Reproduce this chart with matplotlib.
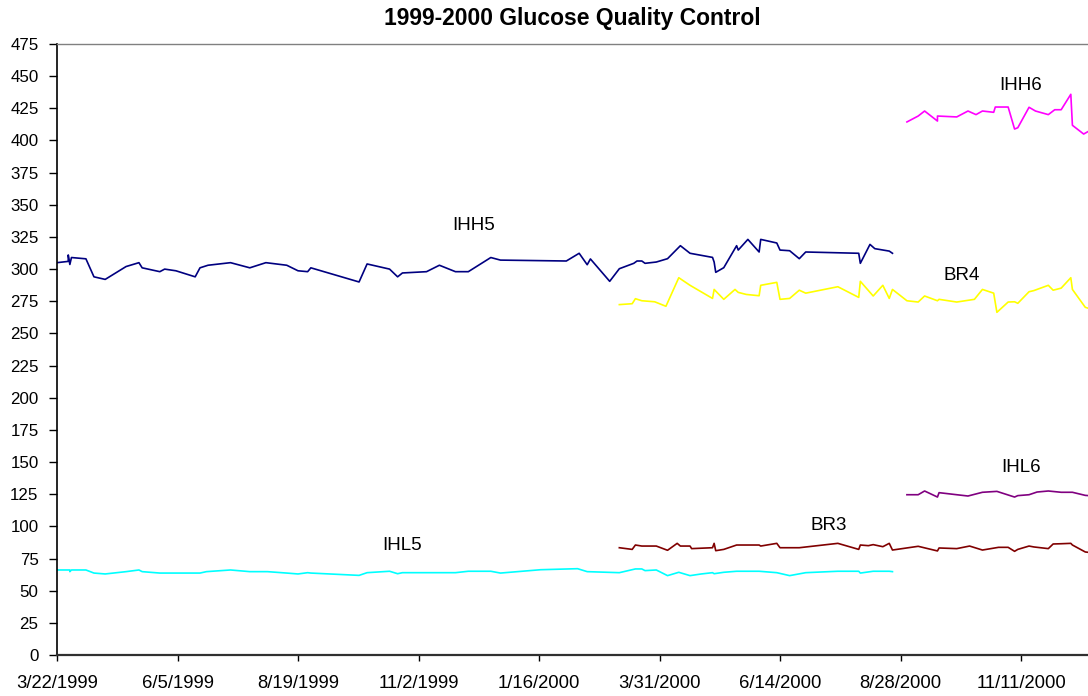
import matplotlib
matplotlib.use('Agg')
import matplotlib.pyplot as plt
import pandas as pd

plt.rcParams['font.family'] = ['Liberation Sans', 'DejaVu Sans']

# days counted from 3/22/1999
start = pd.Timestamp('1999-03-22')

ihh5_day = [0, 7, 7, 8, 9, 18, 23, 30, 43, 51, 53, 64, 67, 74, 86, 89, 94, 108, 120, 130,
            143, 150, 156, 158, 188, 193, 207, 212, 215, 230, 238, 248, 256, 270, 276,
            317, 325, 330, 332, 344, 350, 359, 361, 364, 366, 373, 380, 388, 394, 408,
            409, 410, 415, 423, 424, 430, 437, 438, 448, 450, 456, 462, 466, 499, 500,
            506, 509, 518, 520]
ihh5_val = [305, 306, 311, 303.6, 309, 308, 294, 292, 302, 305, 301, 298, 300, 298.7, 294,
            301, 303, 305, 301, 305, 303, 298.7, 298, 301, 290, 304, 300, 294, 297, 298,
            303, 298, 298, 309, 307, 306.3, 312.3, 303.4, 307.9, 290.5, 300.3, 304.5,
            306.3, 306.3, 304.5, 305.5, 308.1, 318.2, 312.3, 309.1, 305.5, 297.5, 301.1,
            318.2, 314.8, 323.1, 313.3, 323.1, 320.3, 314.8, 314.3, 308.1, 313.3, 312.3,
            304.5, 319.2, 315.9, 314.0, 312.3]

ihl5_day = [0, 8, 8, 9, 18, 23, 30, 43, 51, 53, 64, 89, 93, 108, 120, 131, 143, 150, 156,
            158, 188, 193, 207, 212, 215, 248, 256, 270, 276, 301, 324, 330, 350, 360,
            364, 366, 373, 380, 387, 394, 401, 408, 409, 415, 423, 437, 448, 456, 466,
            486, 499, 500, 508, 518, 520]
ihl5_val = [66.1, 66.1, 64.8, 66.1, 66.1, 63.7, 63.0, 64.8, 66.1, 64.8, 63.7, 63.7, 64.8,
            66.1, 64.8, 64.8, 63.7, 63.0, 64.0, 63.7, 61.9, 64.0, 65.1, 63.2, 64.0, 64.0,
            65.1, 65.1, 63.7, 66.3, 67.1, 64.8, 64.0, 66.9, 66.9, 65.6, 66.1, 61.7, 64.3,
            61.7, 63.0, 64.0, 63.2, 64.3, 65.1, 65.1, 64.0, 61.7, 64.0, 65.1, 65.1, 63.7,
            65.1, 65.1, 64.8]

br4_day = [350, 358, 360, 364, 372, 379, 387, 394, 408, 409, 415, 422, 424, 429, 437, 438,
           448, 450, 456, 462, 466, 486, 499, 500, 508, 514, 518, 520, 529, 536, 540, 548,
           549, 560, 571, 576, 583, 585, 592, 596, 598, 605, 608, 617, 620, 625, 631, 632,
           640, 642]
br4_val = [272.4, 273.1, 277.0, 275.4, 274.6, 271.1, 293.3, 287.4, 277.2, 284.2, 276.5,
           284.2, 281.9, 280.3, 279.3, 287.4, 289.7, 276.5, 277.2, 283.6, 281.3, 286.3,
           278.0, 290.5, 279.1, 287.4, 277.2, 284.2, 275.4, 274.4, 279.1, 275.4, 276.5,
           274.4, 276.5, 284.2, 281.3, 266.4, 274.4, 274.6, 273.4, 282.4, 283.3, 287.4,
           283.6, 285.2, 293.3, 284.2, 270.3, 269.5]

br3_day = [350, 358, 360, 364, 373, 380, 386, 388, 394, 395, 408, 409, 410, 415, 423, 437,
           438, 448, 450, 462, 486, 499, 500, 505, 508, 514, 518, 520, 536, 548, 549, 560,
           568, 576, 586, 592, 596, 598, 605, 608, 617, 620, 625, 631, 632, 640, 642]
br3_val = [83.4, 82.1, 85.5, 84.7, 84.7, 81.4, 86.8, 84.7, 84.7, 82.7, 83.4, 86.8, 81.1,
           82.1, 85.5, 85.5, 84.7, 86.8, 83.4, 83.4, 86.8, 82.1, 85.5, 85.0, 85.8, 84.2,
           86.8, 81.6, 84.5, 80.9, 83.2, 82.7, 84.7, 81.6, 83.7, 83.7, 80.6, 82.1, 84.7,
           84.0, 82.7, 86.3, 86.5, 86.8, 85.5, 80.1, 79.8]

ihh6_day = [529, 536, 540, 548, 548, 560, 567, 572, 576, 583, 584, 592, 596, 598, 605,
            609, 617, 621, 625, 631, 632, 639, 642]
ihh6_val = [414.4, 419.0, 422.9, 415.1, 419.0, 418.3, 422.9, 420.1, 422.9, 421.9, 426.0,
            426.0, 408.9, 409.9, 425.8, 422.9, 420.1, 423.9, 423.9, 435.9, 411.8, 405.0,
            407.1]

ihl6_day = [529, 536, 540, 548, 549, 560, 567, 576, 585, 596, 598, 605, 610, 617, 625,
            632, 640, 642]
ihl6_val = [124.6, 124.6, 127.5, 122.8, 126.2, 124.6, 123.6, 126.5, 127.2, 122.8, 123.9,
            124.6, 126.7, 127.5, 126.5, 126.5, 124.1, 123.9]

series = [
    ('IHH5', ihh5_day, ihh5_val, '#000080', (259, 334)),
    ('IHL5', ihl5_day, ihl5_val, '#00FFFF', (215, 85)),
    ('BR4', br4_day, br4_val, '#FFFF00', (563, 295)),
    ('BR3', br3_day, br3_val, '#800000', (480, 101)),
    ('IHH6', ihh6_day, ihh6_val, '#FF00FF', (600, 443)),
    ('IHL6', ihl6_day, ihl6_val, '#800080', (600, 146)),
]

fig = plt.figure(figsize=(10.88, 6.96), dpi=100)
ax = fig.add_axes([57 / 1088, 41 / 696, 1031 / 1088, 611 / 696])

for name, days, vals, color, (lx, ly) in series:
    dates = start + pd.to_timedelta(days, unit='D')
    ax.plot(dates, vals, color=color, lw=1.2)
    ax.text(start + pd.Timedelta(days=lx), ly, name, fontsize=13.5, ha='center', va='center')

ax.set_xlim(start, start + pd.Timedelta(days=641.7))
ax.set_ylim(0, 475)
ax.set_yticks(range(0, 476, 25))

ticks = [start + pd.Timedelta(days=75 * k) for k in range(9)]
ax.set_xticks(ticks)
ax.set_xticklabels([f'{d.month}/{d.day}/{d.year}' for d in ticks])

ax.spines['right'].set_visible(False)
ax.spines['top'].set_color('#808080')
ax.spines['top'].set_linewidth(1.0)
ax.spines['bottom'].set_color('#303030')
ax.spines['bottom'].set_linewidth(1.6)
ax.spines['left'].set_linewidth(1.2)
ax.tick_params(axis='y', labelsize=12.2, length=5.8, width=1, direction='out', pad=7.5)
ax.tick_params(axis='x', labelsize=13.3, length=4.3, width=1, direction='out', pad=10)

fig.text(572 / 1088, 1 - 18 / 696, '1999-2000 Glucose Quality Control',
         fontsize=16.5, fontweight='bold', ha='center', va='center')

fig.savefig('out.png', dpi=100)
